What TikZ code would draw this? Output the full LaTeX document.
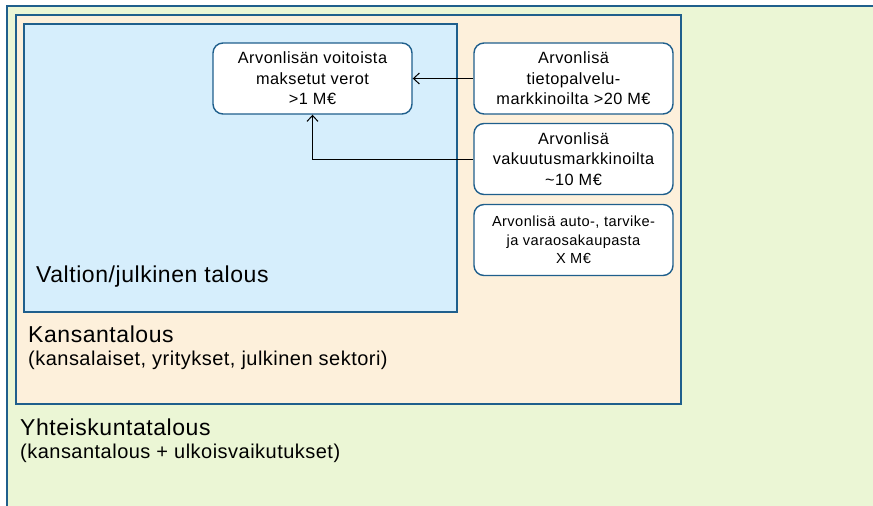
\documentclass[tikz,border=0pt]{standalone}
\usepackage{fontspec}
\setmainfont{Liberation Sans}
\usetikzlibrary{arrows.meta}
\definecolor{bordc}{RGB}{31,95,140}
\definecolor{greenf}{RGB}{235,246,213}
\definecolor{tanf}{RGB}{253,240,219}
\definecolor{bluef}{RGB}{214,238,252}
\tikzset{
  region/.style={draw=bordc, line width=1.6pt},
  vbox/.style={draw=bordc, fill=white, line width=1.4pt, rounded corners=10pt,
    minimum width=199pt, minimum height=71pt, align=center, inner sep=0pt,
    font=\fontsize{16.3}{20.5}\selectfont\addfontfeature{LetterSpace=3}},
  smallbox/.style={vbox, font=\fontsize{14.6}{18.5}\selectfont\addfontfeature{LetterSpace=3}},
  biglabel/.style={anchor=base west, inner sep=0pt, font=\fontsize{23}{26}\selectfont\addfontfeature{LetterSpace=2.4}},
  sublabel/.style={anchor=base west, inner sep=0pt, font=\fontsize{20}{23}\selectfont\addfontfeature{LetterSpace=2.4}},
  flow/.style={draw=black, line width=1pt, -{Straight Barb[length=6pt,width=11pt]}}
}
\begin{document}
\begin{tikzpicture}[x=1pt,y=-1pt]
\useasboundingbox (0,0) rectangle (873,506);
\clip (0,0) rectangle (873,506);
\fill[white] (0,0) rectangle (873,506);
\filldraw[region, fill=greenf] (7,530) -- (7,6) -- (890,6) -- (890,530) -- cycle;
\filldraw[region, fill=tanf] (16,15) rectangle (681,404);
\filldraw[region, fill=bluef] (24,24) rectangle (457,312);

\node[vbox] (b1) at (312.5,78.5) {Arvonlisän voitoista\\maksetut verot\\>1 M€};
\node[vbox] (b2) at (573.5,78.5) {Arvonlisä\\tietopalvelu-\\markkinoilta >20 M€};
\node[vbox] (b3) at (573.5,159) {Arvonlisä\\vakuutusmarkkinoilta\\\textasciitilde10 M€};
\node[smallbox] (b4) at (573.5,240) {Arvonlisä auto-, tarvike-\\ja varaosakaupasta\\X M€};

\draw[flow] (b2.west) -- (b1.east);
\draw[flow] (b3.west) -| (b1.south);

\node[biglabel] (valtio) at (36,282) {Valtion/julkinen talous};
\node[biglabel] (kansa) at (28,342) {Kansantalous};
\node[sublabel] (kansasub) at (28,365) {(kansalaiset, yritykset, julkinen sektori)};
\node[biglabel] (yht) at (20,435) {Yhteiskuntatalous};
\node[sublabel] (yhtsub) at (20,458) {(kansantalous + ulkoisvaikutukset)};
\end{tikzpicture}
\end{document}
